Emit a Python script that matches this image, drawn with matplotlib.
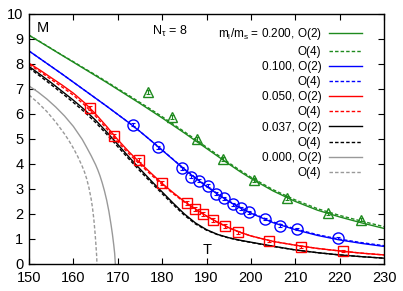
import matplotlib
matplotlib.use('Agg')
import matplotlib.pyplot as plt

plt.rcParams['font.family'] = ['Liberation Sans', 'DejaVu Sans']
plt.rcParams['mathtext.default'] = 'regular'

# fit curves
T_fit = [150, 152.5, 155, 157.5, 160, 162.5, 165, 167.5, 170, 172.5, 175, 177.5, 180, 182.5,
         185, 187.5, 190, 192.5, 195, 197.5, 200, 205, 210, 215, 220, 225, 230]
green_o2 = [9.15, 8.88, 8.61, 8.34, 8.07, 7.80, 7.53, 7.26, 6.98, 6.70, 6.42, 6.13, 5.84, 5.54,
            5.24, 4.93, 4.62, 4.31, 4.00, 3.70, 3.42, 2.92, 2.50, 2.15, 1.88, 1.64, 1.42]
green_o4 = [9.15, 8.89, 8.62, 8.35, 8.09, 7.82, 7.56, 7.29, 7.01, 6.74, 6.46, 6.18, 5.89, 5.59,
            5.29, 4.98, 4.67, 4.36, 4.05, 3.75, 3.47, 2.97, 2.56, 2.21, 1.94, 1.71, 1.49]
blue_o2 = [8.52, 8.21, 7.90, 7.59, 7.27, 6.95, 6.63, 6.31, 5.98, 5.65, 5.30, 4.93, 4.55, 4.17,
           3.78, 3.43, 3.10, 2.79, 2.50, 2.25, 2.03, 1.65, 1.37, 1.14, 0.96, 0.82, 0.70]
blue_o4 = [8.52, 8.21, 7.90, 7.59, 7.27, 6.95, 6.63, 6.31, 5.98, 5.65, 5.30, 4.93, 4.56, 4.18,
           3.80, 3.45, 3.12, 2.81, 2.52, 2.27, 2.05, 1.68, 1.40, 1.17, 0.99, 0.85, 0.73]
red_o2 = [8.03, 7.75, 7.45, 7.15, 6.83, 6.45, 6.00, 5.50, 4.97, 4.49, 4.05, 3.63, 3.22, 2.85,
          2.50, 2.20, 1.92, 1.67, 1.45, 1.27, 1.12, 0.90, 0.75, 0.62, 0.52, 0.43, 0.36]
red_o4 = [7.98, 7.69, 7.38, 7.07, 6.75, 6.36, 5.91, 5.41, 4.88, 4.41, 3.98, 3.57, 3.17, 2.81,
          2.47, 2.18, 1.91, 1.66, 1.45, 1.27, 1.12, 0.90, 0.75, 0.62, 0.52, 0.43, 0.36]
black_o2 = [7.90, 7.58, 7.25, 6.90, 6.55, 6.17, 5.75, 5.28, 4.78, 4.28, 3.80, 3.33, 2.88, 2.43,
            2.00, 1.64, 1.37, 1.18, 1.05, 0.95, 0.87, 0.71, 0.56, 0.45, 0.36, 0.29, 0.23]
black_o4 = [7.84, 7.51, 7.17, 6.82, 6.46, 6.08, 5.66, 5.19, 4.69, 4.20, 3.72, 3.26, 2.81, 2.37,
            1.95, 1.60, 1.35, 1.17, 1.04, 0.94, 0.86, 0.70, 0.56, 0.45, 0.36, 0.29, 0.23]

T_gray_o2 = [150, 152, 154, 156, 158, 160, 162, 163, 164, 165, 165.5, 166, 166.5, 167, 167.5,
             168, 168.5, 168.8, 169.1, 169.3, 169.45]
gray_o2 = [7.12, 6.88, 6.60, 6.28, 5.92, 5.50, 4.98, 4.66, 4.33, 3.97, 3.76, 3.52, 3.24, 2.92,
           2.55, 2.10, 1.55, 1.18, 0.75, 0.42, 0.00]
T_gray_o4 = [150, 152, 154, 156, 158, 159, 160, 161, 162, 162.5, 163, 163.5, 164, 164.3, 164.6,
             164.9, 165.1, 165.25, 165.3]
gray_o4 = [6.76, 6.45, 6.10, 5.68, 5.20, 4.93, 4.63, 4.29, 3.90, 3.68, 3.40, 3.05, 2.60, 2.25,
           1.80, 1.20, 0.70, 0.30, 0.00]

# lattice data
T_tri = [176.7, 182.3, 187.9, 193.8, 200.7, 208.1, 217.4, 224.7]
M_tri = [6.89, 5.89, 5.00, 4.20, 3.36, 2.64, 2.03, 1.76]
E_tri = [0.08, 0.08, 0.08, 0.07, 0.07, 0.07, 0.06, 0.06]

T_circ = [173.4, 179.0, 184.5, 186.4, 188.4, 190.3, 192.1, 193.9, 195.9, 197.8, 199.5, 203.1, 206.6, 210.3, 219.6]
M_circ = [5.56, 4.67, 3.82, 3.49, 3.32, 3.12, 2.81, 2.63, 2.39, 2.22, 2.06, 1.79, 1.53, 1.39, 1.05]
E_circ = [0.06, 0.06, 0.06, 0.06, 0.06, 0.06, 0.06, 0.06, 0.06, 0.06, 0.06, 0.05, 0.05, 0.05, 0.04]

T_sq = [163.7, 169.2, 174.8, 180.0, 185.6, 187.4, 189.2, 191.4, 194.2, 197.1, 204.1, 211.2, 220.8]
M_sq = [6.23, 5.12, 4.15, 3.23, 2.42, 2.20, 1.98, 1.75, 1.52, 1.26, 0.91, 0.69, 0.52]
E_sq = [0.09, 0.09, 0.09, 0.09, 0.08, 0.08, 0.08, 0.08, 0.08, 0.07, 0.05, 0.04, 0.03]

labels = ["m$_l$/m$_s$ = 0.200, O(2)", "O(4)", "0.100, O(2)", "O(4)",
          "0.050, O(2)", "O(4)", "0.037, O(2)", "O(4)", "0.000, O(2)", "O(4)"]

green = '#1e8a1e'
blue = '#0000ff'
red = '#ff0000'
gray = '#999999'
dash = (0, (2.5, 1.5))

fig = plt.figure(figsize=(4.03, 2.91), dpi=100)
ax = fig.add_axes([0.072, 0.093, 0.881, 0.859])

ax.plot(T_fit, green_o2, color=green, lw=1.0, label=labels[0])
ax.plot(T_fit, green_o4, color=green, lw=1.0, ls=dash, label=labels[1])
ax.plot(T_fit, blue_o2, color=blue, lw=1.0, label=labels[2])
ax.plot(T_fit, blue_o4, color=blue, lw=1.0, ls=dash, label=labels[3])
ax.plot(T_fit, red_o2, color=red, lw=1.0, label=labels[4])
ax.plot(T_fit, red_o4, color=red, lw=1.0, ls=dash, label=labels[5])
ax.plot(T_fit, black_o2, color='black', lw=1.0, label=labels[6])
ax.plot(T_fit, black_o4, color='black', lw=1.0, ls=dash, label=labels[7])
ax.plot(T_gray_o2, gray_o2, color=gray, lw=1.0, label=labels[8])
ax.plot(T_gray_o4, gray_o4, color=gray, lw=1.0, ls=dash, label=labels[9])

for T, M, E, c, m, ms in [(T_tri, M_tri, E_tri, green, '^', 7),
                          (T_circ, M_circ, E_circ, blue, 'o', 8),
                          (T_sq, M_sq, E_sq, red, 's', 7.5)]:
    ax.errorbar(T, M, yerr=E, fmt='none', ecolor=c, elinewidth=0.8, capsize=1.5, capthick=0.8)
    ax.plot(T, M, ls='none', marker=m, ms=ms, mfc='none', mec=c, mew=1.0)

ax.set_xlim(150, 230)
ax.set_ylim(0, 10)
ax.set_xticks(range(150, 231, 10))
ax.set_yticks(range(0, 11))
ax.tick_params(direction='in', top=True, right=True, length=4, width=0.8, labelsize=10.5)
ax.tick_params(axis='x', pad=5)
ax.tick_params(axis='y', pad=4)
for s in ax.spines.values():
    s.set_linewidth(1.0)

ax.text(0.0225, 0.944, "M", transform=ax.transAxes, ha='left', va='center', fontsize=10.5)
ax.text(0.346, 0.93, r"N$_\tau$ = 8", transform=ax.transAxes, ha='left', va='center', fontsize=9)
ax.text(0.5005, 0.055, "T", transform=ax.transAxes, ha='center', va='center', fontsize=10.5)

ax.legend(loc='upper right', bbox_to_anchor=(0.937, 0.95), frameon=False, markerfirst=False,
          fontsize=8.5, handlelength=2.8, handletextpad=0.6, labelspacing=0.27, borderpad=0,
          borderaxespad=0)

fig.savefig("out.png", dpi=100)
